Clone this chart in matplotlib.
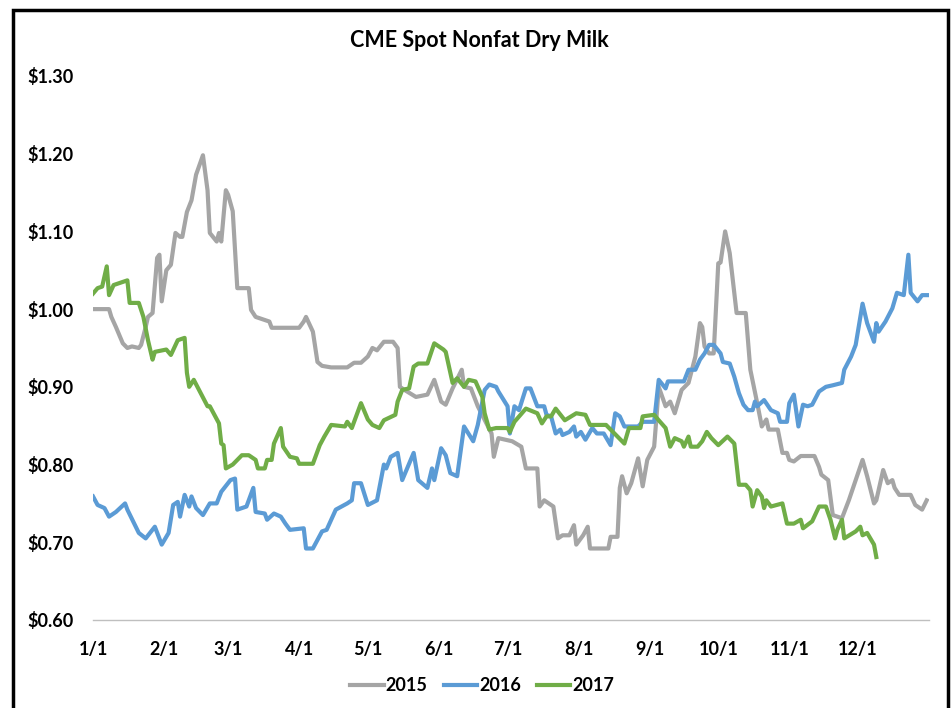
import matplotlib
matplotlib.use('Agg')
import matplotlib.pyplot as plt
from matplotlib.patches import Rectangle

# day of year (0 = Jan 1) and price in $/lb
days_2015 = [0, 7, 8, 10, 13, 15, 17, 20, 21, 23, 24, 26, 28, 29, 30, 32, 34, 36, 38, 39,
             41, 43, 45, 48, 50, 51, 54, 55, 56, 58, 59, 61, 63, 68, 69, 71, 77, 78, 90, 92,
             93, 96, 98, 100, 104, 111, 114, 117, 120, 122, 124, 127, 131, 133, 134, 136, 141, 146, 149, 152,
             154, 157, 161, 162, 165, 168, 174, 175, 177, 180, 183, 187, 189, 194, 195, 197, 201, 203, 205, 208,
             210, 211, 214, 216, 217, 225, 226, 229, 230, 231, 233, 235, 238, 240, 242, 245, 246, 247, 250, 252,
             254, 257, 260, 263, 265, 266, 267, 269, 271, 273, 274, 276, 278, 281, 285, 287, 290, 292, 294, 295,
             299, 301, 303, 304, 306, 309, 315, 317, 318, 321, 323, 327, 330, 333, 336, 338, 341, 342, 345, 347,
             349, 350, 352, 357, 359, 362, 364]
price_2015 = [1.00, 1.00, 0.99, 0.977, 0.956, 0.95, 0.952, 0.95, 0.954, 0.977, 0.99, 0.995, 1.066, 1.07, 1.01, 1.05, 1.057, 1.098, 1.093, 1.093,
              1.125, 1.14, 1.173, 1.198, 1.153, 1.098, 1.087, 1.098, 1.087, 1.153, 1.147, 1.126, 1.027, 1.027, 0.999, 0.99, 0.984, 0.976, 0.976, 0.984,
              0.99, 0.971, 0.932, 0.927, 0.925, 0.925, 0.931, 0.931, 0.939, 0.95, 0.947, 0.958, 0.958, 0.95, 0.90, 0.896, 0.887, 0.89, 0.909, 0.881,
              0.877, 0.898, 0.922, 0.90, 0.898, 0.875, 0.84, 0.81, 0.834, 0.832, 0.83, 0.823, 0.795, 0.795, 0.746, 0.754, 0.746, 0.705, 0.709, 0.709,
              0.722, 0.697, 0.709, 0.72, 0.692, 0.692, 0.707, 0.707, 0.77, 0.785, 0.763, 0.776, 0.808, 0.772, 0.806, 0.823, 0.86, 0.90, 0.875, 0.881,
              0.866, 0.896, 0.905, 0.939, 0.982, 0.977, 0.952, 0.943, 0.943, 1.059, 1.06, 1.10, 1.072, 0.995, 0.995, 0.922, 0.879, 0.849, 0.858, 0.845,
              0.845, 0.815, 0.815, 0.806, 0.804, 0.811, 0.811, 0.797, 0.787, 0.78, 0.735, 0.731, 0.754, 0.78, 0.806, 0.785, 0.75, 0.754, 0.793, 0.776,
              0.78, 0.77, 0.761, 0.761, 0.748, 0.742, 0.754]

days_2016 = [0, 2, 5, 7, 10, 14, 15, 20, 23, 27, 30, 33, 35, 37, 38, 40, 42, 43, 45, 48,
             51, 54, 56, 60, 62, 63, 67, 70, 71, 75, 76, 79, 82, 84, 86, 92, 93, 96, 100, 102,
             106, 111, 113, 114, 117, 120, 124, 127, 128, 130, 133, 135, 140, 142, 146, 148, 149, 152, 154, 156,
             159, 162, 166, 168, 171, 173, 176, 177, 181, 182, 184, 186, 189, 191, 194, 197, 198, 200, 202, 204,
             205, 208, 210, 211, 213, 215, 218, 220, 223, 226, 228, 230, 232, 238, 240, 245, 247, 250, 251, 258,
             260, 263, 265, 267, 269, 271, 274, 275, 278, 280, 282, 284, 286, 288, 289, 290, 293, 296, 299, 300,
             303, 304, 306, 308, 310, 312, 314, 317, 320, 323, 327, 328, 331, 333, 336, 338, 341, 342, 343, 346,
             349, 351, 354, 356, 357, 360, 362, 365]
price_2016 = [0.759, 0.748, 0.744, 0.733, 0.739, 0.75, 0.742, 0.712, 0.705, 0.72, 0.697, 0.712, 0.748, 0.752, 0.733, 0.761, 0.746, 0.759, 0.744, 0.735,
              0.75, 0.75, 0.765, 0.78, 0.782, 0.742, 0.746, 0.77, 0.739, 0.737, 0.729, 0.737, 0.733, 0.724, 0.716, 0.718, 0.692, 0.692, 0.714, 0.716,
              0.742, 0.75, 0.754, 0.776, 0.776, 0.748, 0.754, 0.80, 0.795, 0.81, 0.815, 0.78, 0.815, 0.78, 0.77, 0.795, 0.78, 0.821, 0.812, 0.789,
              0.785, 0.849, 0.83, 0.851, 0.896, 0.903, 0.90, 0.894, 0.875, 0.84, 0.875, 0.87, 0.898, 0.898, 0.875, 0.875, 0.864, 0.862, 0.84, 0.845,
              0.838, 0.842, 0.849, 0.836, 0.842, 0.832, 0.847, 0.84, 0.84, 0.825, 0.866, 0.862, 0.849, 0.849, 0.855, 0.855, 0.909, 0.898, 0.907, 0.907,
              0.922, 0.922, 0.935, 0.943, 0.954, 0.954, 0.943, 0.932, 0.93, 0.913, 0.892, 0.877, 0.87, 0.87, 0.881, 0.875, 0.883, 0.87, 0.866, 0.855,
              0.855, 0.879, 0.89, 0.849, 0.877, 0.875, 0.877, 0.894, 0.90, 0.902, 0.905, 0.922, 0.939, 0.954, 1.007, 0.982, 0.958, 0.982, 0.971, 0.984,
              1.001, 1.021, 1.018, 1.07, 1.021, 1.01, 1.018, 1.018]

days_2017 = [0, 2, 4, 6, 7, 9, 12, 15, 16, 20, 22, 24, 26, 27, 32, 34, 37, 40, 41, 42,
             44, 50, 51, 55, 56, 57, 58, 61, 63, 65, 68, 71, 72, 75, 76, 78, 79, 82, 83, 86,
             89, 90, 96, 99, 101, 104, 110, 111, 113, 117, 120, 122, 125, 127, 132, 133, 135, 138, 140, 142,
             146, 149, 153, 154, 157, 159, 162, 164, 167, 170, 171, 173, 176, 181, 182, 184, 189, 194, 196, 198,
             200, 202, 206, 211, 215, 217, 224, 226, 229, 232, 234, 239, 240, 245, 247, 250, 252, 254, 257, 258,
             260, 261, 264, 266, 268, 270, 273, 277, 280, 282, 285, 287, 288, 290, 292, 293, 294, 296, 301, 303,
             306, 309, 310, 314, 317, 320, 322, 324, 325, 327, 328, 333, 335, 336, 338, 341, 342]
price_2017 = [1.02, 1.027, 1.029, 1.055, 1.018, 1.031, 1.034, 1.037, 1.008, 1.008, 0.99, 0.96, 0.935, 0.945, 0.948, 0.941, 0.96, 0.963, 0.918, 0.90,
              0.909, 0.875, 0.875, 0.853, 0.827, 0.825, 0.795, 0.80, 0.806, 0.812, 0.812, 0.806, 0.795, 0.795, 0.806, 0.806, 0.827, 0.847, 0.823, 0.81,
              0.808, 0.801, 0.801, 0.825, 0.836, 0.851, 0.849, 0.855, 0.847, 0.879, 0.858, 0.851, 0.847, 0.857, 0.864, 0.881, 0.896, 0.898, 0.926, 0.93,
              0.93, 0.956, 0.948, 0.945, 0.905, 0.911, 0.90, 0.909, 0.907, 0.887, 0.866, 0.845, 0.847, 0.847, 0.842, 0.855, 0.872, 0.866, 0.853, 0.862,
              0.862, 0.872, 0.857, 0.866, 0.864, 0.851, 0.851, 0.845, 0.836, 0.827, 0.847, 0.847, 0.862, 0.864, 0.857, 0.847, 0.823, 0.834, 0.83, 0.823,
              0.836, 0.823, 0.823, 0.83, 0.842, 0.834, 0.825, 0.836, 0.827, 0.774, 0.774, 0.767, 0.746, 0.767, 0.759, 0.744, 0.754, 0.746, 0.75, 0.724,
              0.724, 0.729, 0.718, 0.727, 0.746, 0.746, 0.729, 0.705, 0.716, 0.729, 0.705, 0.714, 0.72, 0.709, 0.712, 0.697, 0.681]

month_days = [0, 31, 59, 90, 120, 151, 181, 212, 243, 273, 304, 334]
month_labels = ['1/1', '2/1', '3/1', '4/1', '5/1', '6/1', '7/1', '8/1', '9/1', '10/1', '11/1', '12/1']
y_ticks = [0.60, 0.70, 0.80, 0.90, 1.00, 1.10, 1.20, 1.30]

plt.rcParams['font.family'] = ['Lato', 'DejaVu Sans']
plt.rcParams['font.weight'] = 'bold'

fig = plt.figure(figsize=(9.53, 7.08), dpi=100)
ax = fig.add_axes([0.0976, 0.1243, 0.8772, 0.7684])

lw = 3.0
ax.plot(days_2015, price_2015, color='#A5A5A5', lw=lw, label='2015')
ax.plot(days_2016, price_2016, color='#5B9BD5', lw=lw, label='2016')
ax.plot(days_2017, price_2017, color='#70AD47', lw=lw, label='2017')

ax.set_xlim(0, 365)
ax.set_ylim(0.60, 1.30)
ax.set_xticks(month_days)
ax.set_xticklabels(month_labels)
ax.set_yticks(y_ticks)
ax.set_yticklabels(['${:.2f}'.format(v) for v in y_ticks])
ax.tick_params(axis='both', length=0, labelsize=13, colors='black')
ax.tick_params(axis='x', pad=15)
ax.tick_params(axis='y', pad=14)
for name in ['top', 'right', 'left']:
    ax.spines[name].set_visible(False)
ax.spines['bottom'].set_color('#BFBFBF')
ax.spines['bottom'].set_linewidth(1.0)

fig.text(0.503, 0.943, 'CME Spot Nonfat Dry Milk', ha='center', va='center',
         fontsize=15.5, fontweight='bold')

fig.legend(loc='center', bbox_to_anchor=(0.506, 0.032), ncol=3, frameon=False,
           fontsize=13, handlelength=1.85, handletextpad=0.1, columnspacing=0.9)

# black frame around the chart (bottom edge runs off the image)
frame = Rectangle((13.5 / 953, -0.05), 935 / 953, 1.05 - 10 / 708,
                  transform=fig.transFigure, fill=False, edgecolor='black', lw=2.5)
fig.patches.append(frame)

fig.savefig('out.png', dpi=100)
